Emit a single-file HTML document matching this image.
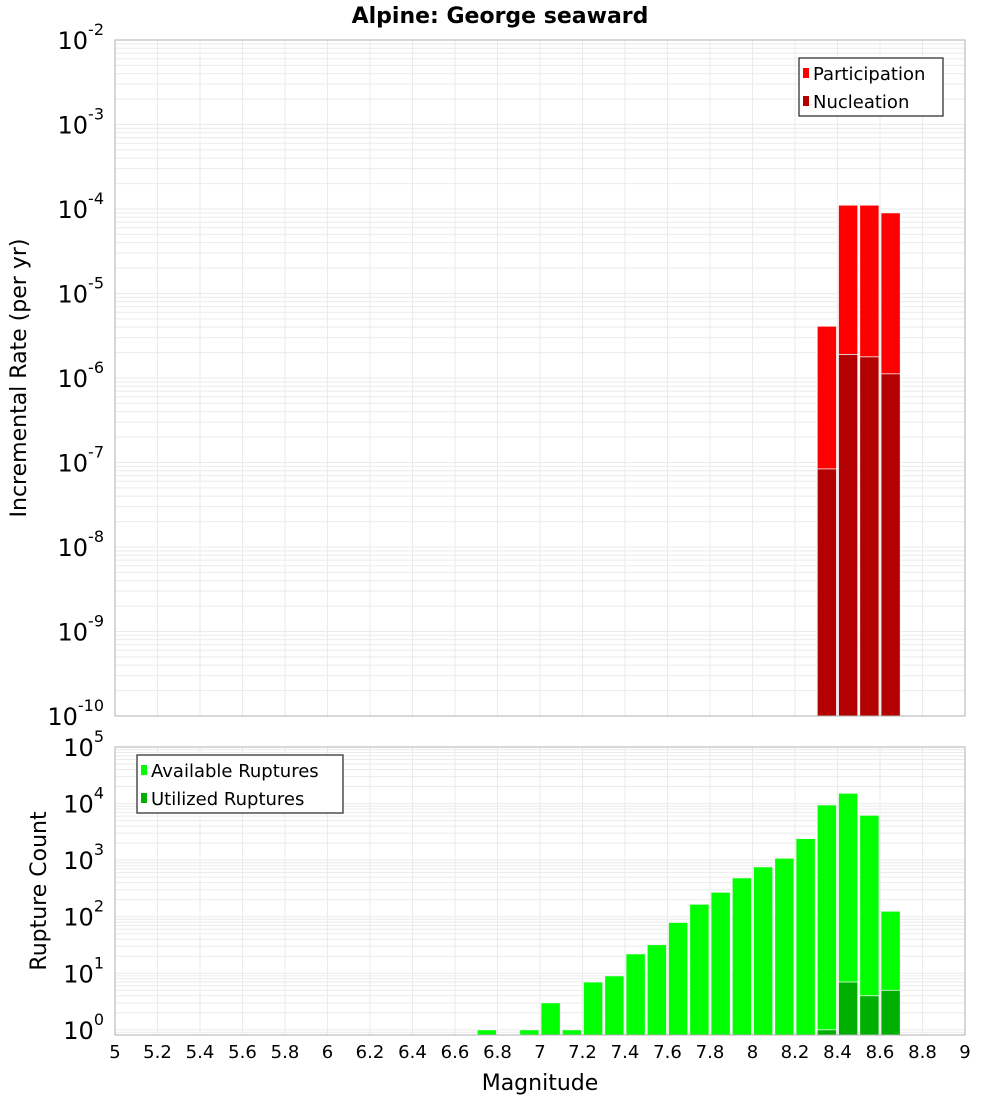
<!DOCTYPE html>
<html><head><meta charset="utf-8"><style>
body{margin:0;background:#fff;font-family:"DejaVu Sans","Liberation Sans",sans-serif;}
svg text{font-family:"DejaVu Sans","Liberation Sans",sans-serif;}
</style></head><body>
<svg id="c" width="1000" height="1100" xmlns="http://www.w3.org/2000/svg">
<text x="500" y="23" text-anchor="middle" font-size="22" font-weight="bold">Alpine: George seaward</text>
<text transform="translate(26,378) rotate(-90)" text-anchor="middle" font-size="22">Incremental Rate (per yr)</text>
<text transform="translate(46,891) rotate(-90)" text-anchor="middle" font-size="22">Rupture Count</text>
<text x="540" y="1090" text-anchor="middle" font-size="22">Magnitude</text>
<g id="top"></g><g id="bot"></g>
</svg>
<script>
const mags = [8.35, 8.45, 8.55, 8.65];
const participation = [4.1e-6, 1.11e-4, 1.11e-4, 9.0e-5];
const nucleation = [8.4e-8, 1.9e-6, 1.78e-6, 1.12e-6];
const countMags = [6.75, 6.95, 7.05, 7.15, 7.25, 7.35, 7.45, 7.55, 7.65, 7.75, 7.85, 7.95, 8.05, 8.15, 8.25, 8.35, 8.45, 8.55, 8.65];
const available = [1, 1, 3, 1, 7, 9, 22, 32, 79, 166, 270, 485, 760, 1080, 2400, 9450, 15200, 6200, 125];
const utilizedMags = [8.35, 8.45, 8.55, 8.65];
const utilized = [1, 7, 4, 5];
const xTicks = [5,5.2,5.4,5.6,5.8,6,6.2,6.4,6.6,6.8,7,7.2,7.4,7.6,7.8,8,8.2,8.4,8.6,8.8,9];
const topExps = [-2,-3,-4,-5,-6,-7,-8,-9,-10];
const botExps = [5,4,3,2,1,0];

const NS='http://www.w3.org/2000/svg';
const L=115,R=965;
const xs=m=>L+(m-5)/4*(R-L);
function el(p,t,a){const e=document.createElementNS(NS,t);for(const k in a)e.setAttribute(k,a[k]);p.appendChild(e);return e;}
function panel(g,top,bot,lmin,lmax){
  const ys=v=>bot-(Math.log10(v)-lmin)/(lmax-lmin)*(bot-top);
  for(let d=Math.floor(lmin);d<lmax;d++)for(let k=1;k<10;k++){const y=ys(k*Math.pow(10,d));if(y<top-0.1||y>bot)continue;
    const ln=el(g,'line',{x1:L,x2:R,y1:y,y2:y,stroke:'#ebebeb','stroke-width':1});
    }
  xTicks.forEach(t=>{const ln=el(g,'line',{x1:xs(t),x2:xs(t),y1:top,y2:bot,stroke:'#ebebeb','stroke-width':1});
    });
  return ys;
}
function bars(g,ms,vals,ys,bot,color,name){
  ms.forEach((m,i)=>{const x0=xs(m-0.05),x1=xs(m+0.05),y=ys(vals[i]);
    const r=el(g,'rect',{x:x0+1,y:y,width:x1-x0-2,height:bot-y,fill:color,stroke:'#f4f4f4','stroke-width':0.8});
    });
}
function frame(g,top,bot){const r=el(g,'rect',{x:L,y:top,width:R-L,height:bot-top,fill:'none',stroke:'#b0b0b0','stroke-width':1});
  }
function ylab(g,y,e){const t=el(g,'text',{x:104,y:y+9,'text-anchor':'end','font-size':24});
  
  t.textContent='10';const s=el(t,'tspan',{dy:-14,'font-size':16});s.textContent=String(e);}
function legend(g,x,y,w,items){const b=el(g,'rect',{x:x,y:y,width:w,height:58,fill:'#fff',stroke:'#333','stroke-width':1.3});
  
  items.forEach((it,i)=>{const cy=y+15+i*28;
    const s=el(g,'rect',{x:x+4,y:cy-5,width:6,height:10,fill:it[1]});
    const t=el(g,'text',{x:x+14,y:cy+7,'font-size':18});t.textContent=it[0];});}

const gt=document.getElementById('top'),gb=document.getElementById('bot');
const T1=40,B1=716,T2=747,B2=1035;
const ysT=panel(gt,T1,B1,-10,-2);
bars(gt,mags,participation,ysT,B1,'#ff0000','participation-bar');
bars(gt,mags,nucleation,ysT,B1,'#b30000','nucleation-bar');
frame(gt,T1,B1);
topExps.forEach(e=>ylab(gt,ysT(Math.pow(10,e)),e));
legend(gt,799,58,144,[['Participation','#ff0000'],['Nucleation','#b30000']]);

const lminB=Math.log10(0.81);
const ysB=panel(gb,T2,B2,lminB,5);
bars(gb,countMags,available,ysB,B2,'#00ff00','available-bar');
bars(gb,utilizedMags,utilized,ysB,B2,'#00b000','utilized-bar');
frame(gb,T2,B2);
botExps.forEach(e=>ylab(gb,ysB(Math.pow(10,e)),e));
legend(gb,137,755,206,[['Available Ruptures','#00ff00'],['Utilized Ruptures','#00b000']]);
xTicks.forEach(t=>{const tx=el(gb,'text',{x:xs(t),y:1058,'text-anchor':'middle','font-size':18});
  tx.textContent=String(t);});
</script>
</body></html>
